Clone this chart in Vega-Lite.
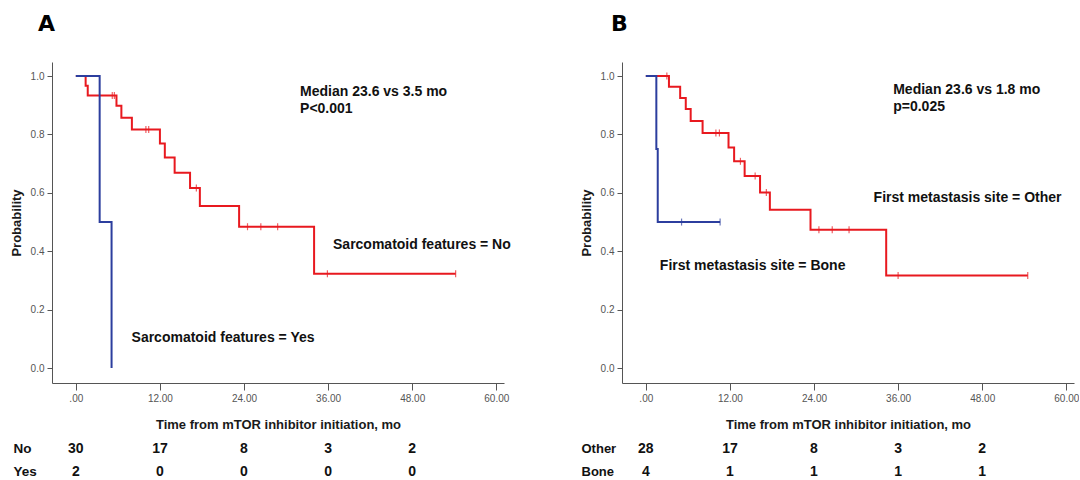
{
  "$schema": "https://vega.github.io/schema/vega-lite/v6.json",
  "background": "white",
  "padding": {"left": 10, "top": 13, "right": 0, "bottom": 0},
  "datasets": {
    "km": [
      {"panel": "A", "group": "No", "t": 0, "s": 1},
      {"panel": "A", "group": "No", "t": 1.4, "s": 0.967},
      {"panel": "A", "group": "No", "t": 1.7, "s": 0.933},
      {"panel": "A", "group": "No", "t": 5.8, "s": 0.898},
      {"panel": "A", "group": "No", "t": 6.5, "s": 0.857},
      {"panel": "A", "group": "No", "t": 8.0, "s": 0.817},
      {"panel": "A", "group": "No", "t": 12.0, "s": 0.769},
      {"panel": "A", "group": "No", "t": 12.7, "s": 0.721},
      {"panel": "A", "group": "No", "t": 14.1, "s": 0.669},
      {"panel": "A", "group": "No", "t": 16.3, "s": 0.617},
      {"panel": "A", "group": "No", "t": 17.7, "s": 0.555},
      {"panel": "A", "group": "No", "t": 23.3, "s": 0.484},
      {"panel": "A", "group": "No", "t": 34.0, "s": 0.323},
      {"panel": "A", "group": "No", "t": 54.2, "s": 0.323},
      {"panel": "A", "group": "Yes", "t": 0, "s": 1},
      {"panel": "A", "group": "Yes", "t": 3.4, "s": 0.5},
      {"panel": "A", "group": "Yes", "t": 5.1, "s": 0},
      {"panel": "B", "group": "Other", "t": 0, "s": 1},
      {"panel": "B", "group": "Other", "t": 3.3, "s": 0.963},
      {"panel": "B", "group": "Other", "t": 4.9, "s": 0.925},
      {"panel": "B", "group": "Other", "t": 5.7, "s": 0.887},
      {"panel": "B", "group": "Other", "t": 6.4, "s": 0.846},
      {"panel": "B", "group": "Other", "t": 8.1, "s": 0.805},
      {"panel": "B", "group": "Other", "t": 11.8, "s": 0.755},
      {"panel": "B", "group": "Other", "t": 12.6, "s": 0.708},
      {"panel": "B", "group": "Other", "t": 14.1, "s": 0.658},
      {"panel": "B", "group": "Other", "t": 16.3, "s": 0.601},
      {"panel": "B", "group": "Other", "t": 17.7, "s": 0.542},
      {"panel": "B", "group": "Other", "t": 23.5, "s": 0.474},
      {"panel": "B", "group": "Other", "t": 34.3, "s": 0.317},
      {"panel": "B", "group": "Other", "t": 54.5, "s": 0.317},
      {"panel": "B", "group": "Bone", "t": 0, "s": 1},
      {"panel": "B", "group": "Bone", "t": 1.5, "s": 0.75},
      {"panel": "B", "group": "Bone", "t": 1.7, "s": 0.5},
      {"panel": "B", "group": "Bone", "t": 10.6, "s": 0.5}
    ],
    "censor": [
      {"panel": "A", "group": "No", "t": 5.2, "s": 0.933},
      {"panel": "A", "group": "No", "t": 5.5, "s": 0.933},
      {"panel": "A", "group": "No", "t": 10.0, "s": 0.817},
      {"panel": "A", "group": "No", "t": 10.4, "s": 0.817},
      {"panel": "A", "group": "No", "t": 17.2, "s": 0.617},
      {"panel": "A", "group": "No", "t": 24.5, "s": 0.484},
      {"panel": "A", "group": "No", "t": 26.4, "s": 0.484},
      {"panel": "A", "group": "No", "t": 28.8, "s": 0.484},
      {"panel": "A", "group": "No", "t": 35.9, "s": 0.323},
      {"panel": "A", "group": "No", "t": 54.2, "s": 0.323},
      {"panel": "B", "group": "Other", "t": 3.0, "s": 1.0},
      {"panel": "B", "group": "Other", "t": 10.0, "s": 0.805},
      {"panel": "B", "group": "Other", "t": 10.5, "s": 0.805},
      {"panel": "B", "group": "Other", "t": 13.5, "s": 0.708},
      {"panel": "B", "group": "Other", "t": 15.6, "s": 0.658},
      {"panel": "B", "group": "Other", "t": 17.2, "s": 0.601},
      {"panel": "B", "group": "Other", "t": 24.7, "s": 0.474},
      {"panel": "B", "group": "Other", "t": 26.6, "s": 0.474},
      {"panel": "B", "group": "Other", "t": 29.0, "s": 0.474},
      {"panel": "B", "group": "Other", "t": 36.0, "s": 0.317},
      {"panel": "B", "group": "Other", "t": 54.5, "s": 0.317},
      {"panel": "B", "group": "Bone", "t": 5.1, "s": 0.5},
      {"panel": "B", "group": "Bone", "t": 10.6, "s": 0.5}
    ],
    "notes": [
      {"panel": "A", "t": 32.0, "s": 0.944, "label": "Median 23.6 vs 3.5 mo"},
      {"panel": "A", "t": 32.0, "s": 0.887, "label": "P<0.001"},
      {"panel": "A", "t": 36.7, "s": 0.421, "label": "Sarcomatoid features = No"},
      {"panel": "A", "t": 7.95, "s": 0.102, "label": "Sarcomatoid features = Yes"},
      {"panel": "B", "t": 35.3, "s": 0.952, "label": "Median 23.6 vs 1.8 mo"},
      {"panel": "B", "t": 35.3, "s": 0.895, "label": "p=0.025"},
      {"panel": "B", "t": 32.5, "s": 0.583, "label": "First metastasis site = Other"},
      {"panel": "B", "t": 2.0, "s": 0.35, "label": "First metastasis site = Bone"}
    ],
    "risk": [
      {"panel": "A", "group": "No", "t": 0, "n": 30},
      {"panel": "A", "group": "No", "t": 12, "n": 17},
      {"panel": "A", "group": "No", "t": 24, "n": 8},
      {"panel": "A", "group": "No", "t": 36, "n": 3},
      {"panel": "A", "group": "No", "t": 48, "n": 2},
      {"panel": "A", "group": "Yes", "t": 0, "n": 2},
      {"panel": "A", "group": "Yes", "t": 12, "n": 0},
      {"panel": "A", "group": "Yes", "t": 24, "n": 0},
      {"panel": "A", "group": "Yes", "t": 36, "n": 0},
      {"panel": "A", "group": "Yes", "t": 48, "n": 0},
      {"panel": "B", "group": "Other", "t": 0, "n": 28},
      {"panel": "B", "group": "Other", "t": 12, "n": 17},
      {"panel": "B", "group": "Other", "t": 24, "n": 8},
      {"panel": "B", "group": "Other", "t": 36, "n": 3},
      {"panel": "B", "group": "Other", "t": 48, "n": 2},
      {"panel": "B", "group": "Bone", "t": 0, "n": 4},
      {"panel": "B", "group": "Bone", "t": 12, "n": 1},
      {"panel": "B", "group": "Bone", "t": 24, "n": 1},
      {"panel": "B", "group": "Bone", "t": 36, "n": 1},
      {"panel": "B", "group": "Bone", "t": 48, "n": 1}
    ]
  },
  "spacing": 69,
  "hconcat": [
    {
      "title": {"text": "A", "anchor": "start", "fontSize": 22, "fontWeight": "bold", "font": "DejaVu Sans", "color": "#000", "dx": 28, "offset": 26},
      "spacing": 6,
      "vconcat": [
        {
          "width": 452,
          "height": 321,
          "layer": [
            {
              "data": {"name": "km"},
              "transform": [{"filter": "datum.panel == 'A'"}],
              "mark": {"type": "line", "interpolate": "step-after", "strokeWidth": 2},
              "encoding": {
                "x": {"field": "t", "type": "quantitative", "scale": {"domain": [-3.4, 61.1], "nice": false, "zero": false},
                  "axis": {"values": [0, 12, 24, 36, 48, 60], "labelExpr": "datum.value == 0 ? '.00' : format(datum.value, '.2f')", "title": "Time from mTOR inhibitor initiation, mo"}},
                "y": {"field": "s", "type": "quantitative", "scale": {"domain": [-0.051, 1.048], "nice": false, "zero": false},
                  "axis": {"values": [0, 0.2, 0.4, 0.6, 0.8, 1.0], "format": ".1f", "title": "Probability"}},
                "color": {"field": "group", "type": "nominal", "scale": {"domain": ["No", "Yes", "Other", "Bone"], "range": ["#E8191F", "#2C3E9E", "#E8191F", "#2C3E9E"]}, "legend": null}
              }
            },
            {
              "data": {"name": "censor"},
              "transform": [{"filter": "datum.panel == 'A'"}],
              "mark": {"type": "tick", "orient": "vertical", "size": 7, "thickness": 1.2},
              "encoding": {
                "x": {"field": "t", "type": "quantitative"},
                "y": {"field": "s", "type": "quantitative"},
                "color": {"field": "group", "type": "nominal", "legend": null}
              }
            },
            {
              "data": {"name": "notes"},
              "transform": [{"filter": "datum.panel == 'A'"}],
              "mark": {"type": "text", "align": "left", "baseline": "middle", "fontSize": 14, "fontWeight": "bold", "color": "#111"},
              "encoding": {
                "x": {"field": "t", "type": "quantitative"},
                "y": {"field": "s", "type": "quantitative"},
                "text": {"field": "label"}
              }
            }
          ]
        },
        {
          "width": 452,
          "height": 46,
          "data": {"name": "risk"},
          "transform": [{"filter": "datum.panel == 'A'"}],
          "mark": {"type": "text", "fontSize": 14, "fontWeight": "bold", "color": "#111"},
          "encoding": {
            "x": {"field": "t", "type": "quantitative", "scale": {"domain": [-3.4, 61.1], "nice": false, "zero": false}, "axis": null},
            "y": {"field": "group", "type": "nominal", "sort": ["No", "Yes"],
              "axis": {"title": null, "ticks": false, "tickSize": 0, "domain": false, "labelAlign": "left", "labelPadding": 39, "labelFontSize": 13.5, "labelFontWeight": "bold", "labelColor": "#111"}},
            "text": {"field": "n", "type": "quantitative"}
          }
        }
      ]
    },
    {
      "title": {"text": "B", "anchor": "start", "fontSize": 22, "fontWeight": "bold", "font": "DejaVu Sans", "color": "#000", "dx": 31, "offset": 26},
      "spacing": 6,
      "vconcat": [
        {
          "width": 452,
          "height": 321,
          "layer": [
            {
              "data": {"name": "km"},
              "transform": [{"filter": "datum.panel == 'B'"}],
              "mark": {"type": "line", "interpolate": "step-after", "strokeWidth": 2},
              "encoding": {
                "x": {"field": "t", "type": "quantitative", "scale": {"domain": [-3.4, 61.1], "nice": false, "zero": false},
                  "axis": {"values": [0, 12, 24, 36, 48, 60], "labelExpr": "datum.value == 0 ? '.00' : format(datum.value, '.2f')", "title": "Time from mTOR inhibitor initiation, mo"}},
                "y": {"field": "s", "type": "quantitative", "scale": {"domain": [-0.051, 1.048], "nice": false, "zero": false},
                  "axis": {"values": [0, 0.2, 0.4, 0.6, 0.8, 1.0], "format": ".1f", "title": "Probability"}},
                "color": {"field": "group", "type": "nominal", "scale": {"domain": ["No", "Yes", "Other", "Bone"], "range": ["#E8191F", "#2C3E9E", "#E8191F", "#2C3E9E"]}, "legend": null}
              }
            },
            {
              "data": {"name": "censor"},
              "transform": [{"filter": "datum.panel == 'B'"}],
              "mark": {"type": "tick", "orient": "vertical", "size": 7, "thickness": 1.2},
              "encoding": {
                "x": {"field": "t", "type": "quantitative"},
                "y": {"field": "s", "type": "quantitative"},
                "color": {"field": "group", "type": "nominal", "legend": null}
              }
            },
            {
              "data": {"name": "notes"},
              "transform": [{"filter": "datum.panel == 'B'"}],
              "mark": {"type": "text", "align": "left", "baseline": "middle", "fontSize": 14, "fontWeight": "bold", "color": "#111"},
              "encoding": {
                "x": {"field": "t", "type": "quantitative"},
                "y": {"field": "s", "type": "quantitative"},
                "text": {"field": "label"}
              }
            }
          ]
        },
        {
          "width": 452,
          "height": 46,
          "data": {"name": "risk"},
          "transform": [{"filter": "datum.panel == 'B'"}],
          "mark": {"type": "text", "fontSize": 14, "fontWeight": "bold", "color": "#111"},
          "encoding": {
            "x": {"field": "t", "type": "quantitative", "scale": {"domain": [-3.4, 61.1], "nice": false, "zero": false}, "axis": null},
            "y": {"field": "group", "type": "nominal", "sort": ["Other", "Bone"],
              "axis": {"title": null, "ticks": false, "tickSize": 0, "domain": false, "labelAlign": "left", "labelPadding": 41, "labelFontSize": 13, "labelFontWeight": "bold", "labelColor": "#111"}},
            "text": {"field": "n", "type": "quantitative"}
          }
        }
      ]
    }
  ],
  "config": {
    "font": "Liberation Sans",
    "view": {"stroke": null},
    "axis": {
      "grid": false,
      "labelFontSize": 10,
      "labelColor": "#555",
      "labelPadding": 3,
      "tickSize": 7,
      "tickColor": "#555",
      "domainColor": "#555",
      "titleFontSize": 13,
      "titleFontWeight": "bold",
      "titleColor": "#1a1a1a"
    },
    "axisX": {"titlePadding": 15},
    "axisY": {"titlePadding": 7, "tickSize": 5}
  }
}
